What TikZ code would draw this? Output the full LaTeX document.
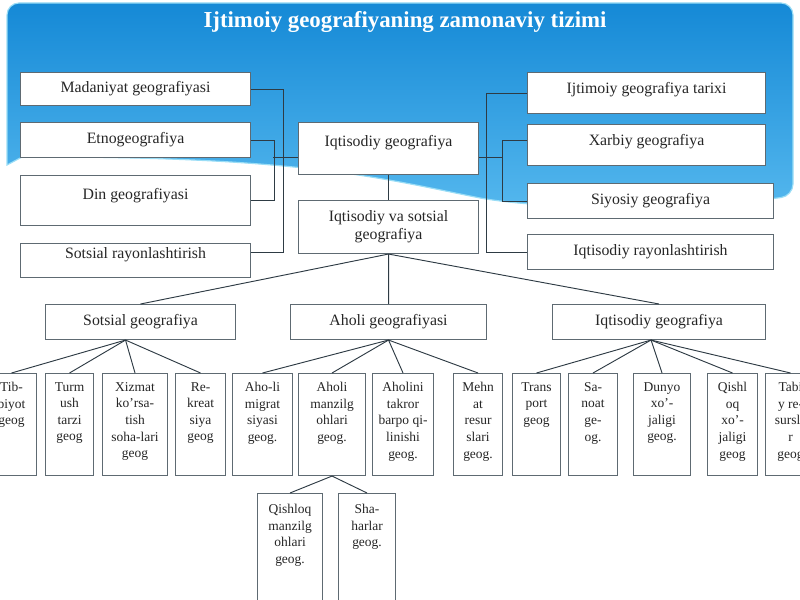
\documentclass[tikz,border=0pt]{standalone}
\usepackage{fontspec}
\setmainfont{Liberation Serif}
\usetikzlibrary{calc}
\definecolor{ink}{HTML}{262626}
\definecolor{boxline}{HTML}{5E6A72}
\definecolor{linkline}{HTML}{2E3B44}
\definecolor{skytop}{HTML}{1589D6}
\definecolor{skybot}{HTML}{55B8EE}
\definecolor{skyrim}{HTML}{9ADDF6}
\newcommand\bigfs{\fontsize{13.5}{16}\selectfont}
\newcommand\smallfs{\fontsize{11.5}{14.2}\selectfont}
\tikzset{
  box/.style={draw=boxline,fill=white,line width=.9pt,anchor=north west,inner sep=2pt,font=\bigfs,text=ink},
  leaf/.style={box,minimum height=3.06cm},
  lbl/.style={anchor=north,align=center,inner sep=0pt,text=ink,font=\bigfs,yshift=#1},
  lbl/.default=-.3cm,
  slbl/.style={lbl=#1,font=\smallfs},
  slbl/.default=-.27cm,
  link/.style={draw=linkline,line width=.8pt},
  banner/.style={top color=skytop,bottom color=skybot,draw=skyrim,line width=1pt},
}

\begin{document}
\begin{tikzpicture}[x=.03cm,y=-.03cm]
  \useasboundingbox (0,0) rectangle (800,600);
  \clip (0,0) rectangle (800,600);
  % blue header
  \path[banner,rounded corners=.36cm] (7,165) -- (7,3) -- (793,3) -- (793,196)
    [sharp corners] .. controls (700,208) and (560,212) .. (480,198)
    .. controls (380,178) and (300,156) .. (22,157) -- cycle;
  \node[anchor=base,font=\fontsize{19.5}{22}\selectfont\bfseries,text=white] (title) at (405,28)
    {Ijtimoiy geografiyaning zamonaviy tizimi};

  % upper left
  \node[box,minimum width=6.9cm,minimum height=.99cm] (madaniyat) at (20,72) {Madaniyat geografiyasi};
  \node[box,minimum width=6.9cm,minimum height=1.05cm] (etno) at (20,122) {Etnogeografiya};
  \node[box,minimum width=6.9cm,minimum height=1.5cm,label={[lbl=-.39cm]north:Din geografiyasi}] (din) at (20,175) {};
  \node[box,minimum width=6.9cm,minimum height=1.02cm,label={[lbl=-.14cm]north:Sotsial rayonlashtirish}] (sotsray) at (20,243) {};

  % centre
  \node[box,minimum width=5.4cm,minimum height=1.56cm,label={[lbl=-.39cm]north:Iqtisodiy geografiya}] (iqgeo) at (298,122) {};
  \node[box,minimum width=5.4cm,minimum height=1.59cm,label={[lbl=-.3cm]north:{Iqtisodiy va sotsial\\geografiya}}] (iqsots) at (298,200) {};

  % upper right
  \node[box,minimum width=7.14cm,minimum height=1.23cm,label={[lbl]north:Ijtimoiy geografiya tarixi}] (tarixi) at (527,72) {};
  \node[box,minimum width=7.14cm,minimum height=1.23cm,label={[lbl]north:Xarbiy geografiya}] (xarbiy) at (527,124) {};
  \node[box,minimum width=7.38cm,minimum height=1.05cm] (siyosiy) at (527,183) {Siyosiy geografiya};
  \node[box,minimum width=7.38cm,minimum height=1.05cm] (iqray) at (527,234) {Iqtisodiy rayonlashtirish};

  % second row
  \node[box,minimum width=5.7cm,minimum height=1.05cm] (sotsgeo) at (45,304) {Sotsial geografiya};
  \node[box,minimum width=5.88cm,minimum height=1.05cm] (aholigeo) at (290,304) {Aholi geografiyasi};
  \node[box,minimum width=6.39cm,minimum height=1.05cm] (iqgeob) at (552,304) {Iqtisodiy geografiya};

  % branches
  \node[leaf,minimum width=1.5cm,label={[slbl]north:{Tib-\\biyot\\geog}}] (tib) at (-14,373) {};
  \node[leaf,minimum width=1.44cm,label={[slbl]north:{Turm\\ush\\tarzi\\geog}}] (turmush) at (45,373) {};
  \node[leaf,minimum width=1.95cm,label={[slbl]north:{Xizmat\\ko'rsa-\\tish\\soha-lari\\geog}}] (xizmat) at (102,373) {};
  \node[leaf,minimum width=1.5cm,label={[slbl]north:{Re-\\kreat\\siya\\geog}}] (rekr) at (175,373) {};
  \node[leaf,minimum width=1.8cm,label={[slbl]north:{Aho-li\\migrat\\siyasi\\geog.}}] (migr) at (232,373) {};
  \node[leaf,minimum width=2.01cm,label={[slbl]north:{Aholi\\manzilg\\ohlari\\geog.}}] (manzil) at (298,373) {};
  \node[leaf,minimum width=1.83cm,label={[slbl]north:{Aholini\\takror\\barpo qi-\\linishi\\geog.}}] (takror) at (372,373) {};
  \node[leaf,minimum width=1.47cm,label={[slbl]north:{Mehn\\at\\resur\\slari\\geog.}}] (mehnat) at (453,373) {};
  \node[leaf,minimum width=1.44cm,label={[slbl]north:{Trans\\port\\geog}}] (trans) at (512,373) {};
  \node[leaf,minimum width=1.47cm,label={[slbl]north:{Sa-\\noat\\ge-\\og.}}] (sanoat) at (568,373) {};
  \node[leaf,minimum width=1.71cm,label={[slbl]north:{Dunyo\\xo'-\\jaligi\\geog.}}] (dunyo) at (633,373) {};
  \node[leaf,minimum width=1.5cm,label={[slbl]north:{Qishl\\oq\\xo'-\\jaligi\\geog}}] (qishxoj) at (707,373) {};
  \node[leaf,minimum width=1.5cm,label={[slbl]north:{Tabi\\y re-\\sursla\\r\\geog}}] (tabiiy) at (765,373) {};

  % bottom
  \node[box,minimum width=1.95cm,minimum height=3.6cm,label={[slbl=-.33cm]north:{Qishloq\\manzilg\\ohlari\\geog.}}] (qishman) at (257,493) {};
  \node[box,minimum width=1.71cm,minimum height=3.6cm,label={[slbl=-.33cm]north:{Sha-\\harlar\\geog.}}] (shahar) at (338,493) {};

  % brackets
  \draw[link] (madaniyat.east) -- ++(32,0) |- ([yshift=.24cm]sotsray.east);
  \draw[link] (etno.east) -- ++(23,0) |- (din.east);
  \draw[link] ([yshift=-.27cm]iqgeo.west) -- ++(-25,0);
  \draw[link] ([yshift=-.27cm]iqgeo.east) -- ++(24,0);
  \draw[link] (tarixi.west) -- ++(-41,0) |- (iqray.west);
  \draw[link] ([yshift=.15cm]xarbiy.west) -- ++(-25,0) |- (siyosiy.west);
  \draw[link] (iqgeo.south) -- (iqsots.north);

  % fans
  \foreach \t in {sotsgeo,aholigeo,iqgeob}
    \draw[link] (iqsots.south) -- (\t.north);
  \foreach \t in {tib,turmush,xizmat,rekr}
    \draw[link] ([xshift=-.45cm]sotsgeo.south) -- (\t.north);
  \foreach \t in {migr,manzil,takror,mehnat}
    \draw[link] (aholigeo.south) -- (\t.north);
  \foreach \t in {trans,sanoat,dunyo,qishxoj,tabiiy}
    \draw[link] ([xshift=-.24cm]iqgeob.south) -- (\t.north);
  \foreach \t in {qishman,shahar}
    \draw[link] (manzil.south) -- (\t.north);
\end{tikzpicture}
\end{document}
